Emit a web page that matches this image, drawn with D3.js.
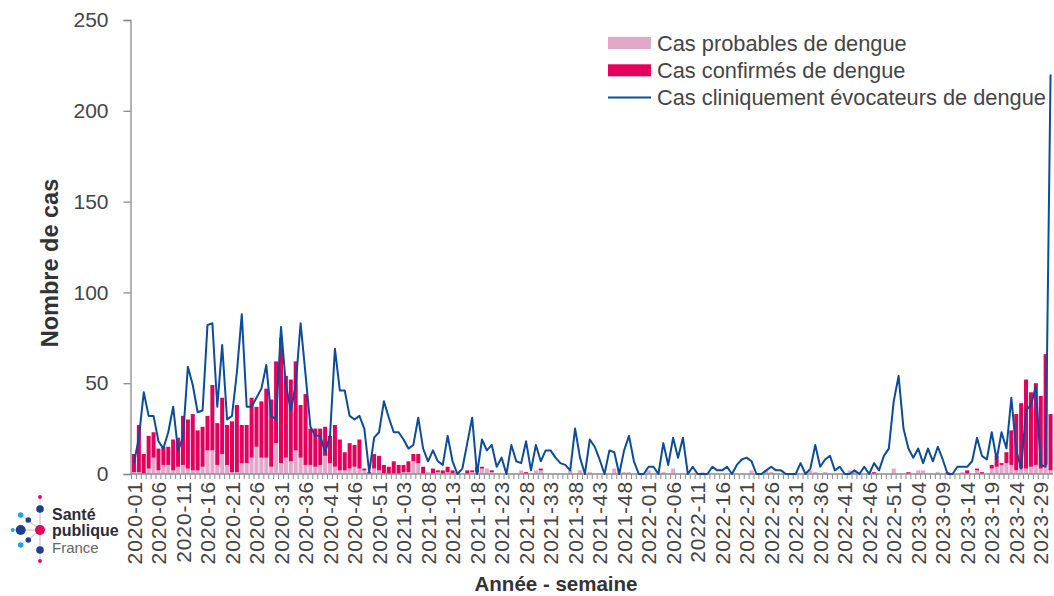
<!DOCTYPE html>
<html lang="fr">
<head>
<meta charset="utf-8">
<title>Dengue - cas par semaine</title>
<script src="https://cdn.jsdelivr.net/npm/d3@7"></script>
<style>
  body { margin: 0; background: #fff; }
  svg { display: block; font-family: "Liberation Sans", Arial, sans-serif; }
</style>
</head>
<body>
<svg id="chart" width="1054" height="596"></svg>
<script>
// weeks per year shown on the x axis
const yearWeeks = [[2020, 53], [2021, 52], [2022, 52], [2023, 31]];
const semaines = [];
yearWeeks.forEach(([an, n]) => {
    for (let w = 1; w <= n; w++) semaines.push(`${an}-${String(w).padStart(2, '0')}`);
});

// Cas probables (bottom of the stack)
const probables = [
    1, 1, 0, 3, 9, 2, 5, 5, 2, 4,
    5, 3, 2, 2, 4, 13, 13, 5, 11, 5,
    1, 1, 6, 6, 9, 15, 9, 9, 4, 17,
    6, 9, 7, 13, 9, 5, 5, 4, 5, 10,
    6, 4, 2, 2, 3, 4, 3, 2, 0, 3,
    2, 0, 0, 0, 0, 1, 1, 7, 6, 0,
    1, 0, 1, 0, 1, 0, 0, 0, 0, 1,
    1, 3, 3, 1, 0, 0, 0, 0, 0, 2,
    0, 0, 2, 2, 0, 0, 0, 0, 0, 2,
    0, 2, 0, 1, 0, 0, 0, 0, 3, 2,
    1, 1, 0, 0, 0, 2, 0, 0, 1, 0,
    3, 0, 0, 0, 0, 0, 1, 0, 0, 0,
    0, 0, 0, 0, 0, 0, 2, 0, 0, 2,
    1, 0, 0, 0, 0, 0, 0, 0, 2, 1,
    0, 1, 0, 0, 0, 0, 2, 2, 0, 0,
    0, 0, 0, 0, 0, 3, 0, 0, 0, 0,
    2, 2, 0, 0, 1, 0, 0, 0, 0, 1,
    0, 0, 2, 0, 0, 3, 4, 5, 6, 5,
    2, 3, 3, 4, 5, 3, 5, 2
];

// Cas confirmés (stacked on top)
const confirmes = [
    10, 26, 11, 18, 14, 12, 10, 10, 17, 16,
    27, 27, 31, 22, 22, 19, 36, 23, 31, 22,
    28, 37, 21, 21, 33, 22, 31, 38, 37, 45,
    69, 45, 45, 49, 29, 39, 20, 21, 20, 16,
    15, 23, 17, 10, 14, 12, 16, 1, 1, 8,
    8, 5, 4, 7, 5, 4, 6, 4, 5, 4,
    0, 3, 1, 2, 3, 2, 1, 0, 2, 1,
    3, 1, 0, 1, 0, 0, 0, 0, 0, 0,
    1, 0, 0, 1, 0, 0, 0, 0, 0, 0,
    0, 0, 0, 0, 0, 0, 0, 0, 0, 0,
    0, 0, 0, 0, 0, 0, 0, 0, 0, 0,
    0, 0, 0, 0, 0, 0, 0, 0, 0, 0,
    0, 0, 0, 0, 0, 0, 0, 0, 0, 0,
    0, 0, 0, 0, 0, 0, 0, 0, 0, 0,
    0, 0, 0, 0, 0, 0, 0, 0, 0, 0,
    0, 1, 0, 0, 0, 0, 0, 0, 1, 0,
    0, 0, 0, 0, 0, 0, 1, 0, 0, 0,
    2, 0, 1, 1, 0, 2, 6, 1, 6, 19,
    31, 36, 49, 41, 45, 40, 61, 31
];

// Cas cliniquement évocateurs (line)
const cliniques = [
    6, 20, 45, 32, 32, 18, 14, 23, 37, 13,
    20, 59, 49, 34, 35, 82, 83, 37, 71, 30,
    32, 56, 88, 37, 37, 42, 47, 60, 32, 30,
    81, 49, 35, 49, 83, 55, 26, 21, 21, 12,
    21, 69, 46, 46, 32, 30, 32, 25, 1, 20,
    23, 40, 31, 23, 23, 19, 14, 16, 31, 14,
    7, 13, 7, 5, 21, 7, 0, 3, 17, 31,
    0, 19, 13, 16, 4, 9, 0, 16, 7, 6,
    18, 2, 16, 7, 13, 13, 9, 6, 5, 2,
    25, 9, 0, 19, 15, 8, 0, 13, 12, 0,
    13, 21, 7, 0, 0, 4, 4, 0, 17, 5,
    20, 9, 20, 0, 4, 0, 0, 0, 4, 2,
    2, 4, 0, 5, 8, 9, 7, 0, 0, 2,
    4, 2, 2, 0, 0, 0, 6, 0, 3, 16,
    4, 8, 10, 2, 4, 0, 0, 2, 0, 4,
    0, 6, 2, 10, 14, 40, 54, 25, 14, 9,
    14, 6, 14, 7, 15, 8, 0, 0, 4, 4,
    4, 7, 20, 10, 8, 23, 8, 23, 14, 42,
    13, 3, 35, 38, 48, 5, 4, 220
];

const yTicks = [0, 50, 100, 150, 200, 250];
const legendLabels = ['Cas probables de dengue', 'Cas confirmés de dengue', 'Cas cliniquement évocateurs de dengue'];

const colProb = '#e2a7c9';
const colConf = '#e4005b';
const colLine = '#0b4c9c';
const axisGrey = '#8c8c8c';
const textGrey = '#454545';

const svg = d3.select('#chart');

const x = d3.scaleBand()
    .domain(semaines)
    .range([131.5, 1053])
    .paddingInner(0.18)
    .paddingOuter(0.09);

const y = d3.scaleLinear().domain([0, 250]).range([474, 20]);

const rows = semaines.map((s, i) => ({ semaine: s, prob: probables[i], conf: confirmes[i], clin: cliniques[i] }));
const series = d3.stack().keys(['prob', 'conf'])(rows);

// bars
svg.append('g')
    .selectAll('g')
    .data(series)
    .join('g')
    .attr('fill', d => d.key === 'prob' ? colProb : colConf)
    .selectAll('rect')
    .data(d => d)
    .join('rect')
    .attr('x', d => x(d.data.semaine))
    .attr('y', d => y(d[1]))
    .attr('width', x.bandwidth())
    .attr('height', d => y(d[0]) - y(d[1]));

// y axis
const yAxis = svg.append('g')
    .attr('transform', 'translate(130.5,0)')
    .call(d3.axisLeft(y).tickValues(yTicks).tickSize(7).tickPadding(15));
yAxis.select('.domain').attr('stroke', axisGrey).attr('stroke-width', 1.3);
yAxis.selectAll('.tick line').attr('stroke', axisGrey).attr('stroke-width', 1.3);
yAxis.selectAll('.tick text')
    .attr('fill', textGrey)
    .style('font-size', '21px');

// x axis : labels every 5 weeks, small tick at every week
const xAxis = svg.append('g')
    .attr('transform', 'translate(0,474)')
    .call(d3.axisBottom(x).tickValues(semaines.filter((s, i) => i % 5 === 0)).tickSize(0));
xAxis.select('.domain').attr('stroke', axisGrey).attr('stroke-width', 1.3).attr('d', 'M130.5,0H1053');
xAxis.selectAll('.tick text')
    .attr('transform', 'rotate(-90)')
    .attr('text-anchor', 'end')
    .attr('x', -7)
    .attr('y', 0)
    .attr('dy', '0.36em')
    .attr('fill', textGrey)
    .style('font-size', '21px')
    .style('letter-spacing', '0.9px');

const step = x.step();
svg.append('g')
    .selectAll('line')
    .data(semaines)
    .join('line')
    .attr('x1', d => x(d) + x.bandwidth() / 2 - step / 2)
    .attr('x2', d => x(d) + x.bandwidth() / 2 - step / 2)
    .attr('y1', 474)
    .attr('y2', 479)
    .attr('stroke', axisGrey)
    .attr('stroke-width', 1);

// line
const line = d3.line()
    .x(d => x(d.semaine) + x.bandwidth() / 2)
    .y(d => y(d.clin));

svg.append('path')
    .datum(rows)
    .attr('fill', 'none')
    .attr('stroke', colLine)
    .attr('stroke-width', 2)
    .attr('stroke-linejoin', 'round')
    .attr('d', line);

// axis titles
svg.append('text')
    .attr('transform', 'translate(58,263) rotate(-90)')
    .attr('text-anchor', 'middle')
    .attr('fill', '#333')
    .style('font-weight', 'bold')
    .style('font-size', '23.5px')
    .text('Nombre de cas');

svg.append('text')
    .attr('x', 556)
    .attr('y', 591)
    .attr('text-anchor', 'middle')
    .attr('fill', '#333')
    .style('font-weight', 'bold')
    .style('font-size', '20.5px')
    .text('Année - semaine');

// legend
const legend = svg.append('g').attr('transform', 'translate(608,43)');
legendLabels.forEach((lab, i) => {
    const g = legend.append('g').attr('transform', `translate(0,${i * 27.3})`);
    if (i < 2) {
        g.append('rect')
            .attr('x', 0).attr('y', -6)
            .attr('width', 43).attr('height', 12)
            .attr('fill', i === 0 ? colProb : colConf);
    } else {
        g.append('line')
            .attr('x1', 0).attr('x2', 43)
            .attr('y1', 0).attr('y2', 0)
            .attr('stroke', colLine).attr('stroke-width', 2);
    }
    g.append('text')
        .attr('x', 49)
        .attr('y', 7.5)
        .attr('fill', textGrey)
        .style('font-size', '21.8px')
        .text(lab);
});

// Santé publique France logo
const logo = svg.append('g');
const hub = [40, 530];
const dots = [
    [40, 497, 1.9, '#e4005b'], [40, 509, 3.8, '#1d3f8f'],
    [20.7, 515, 2.8, '#19a9e1'], [28.3, 520, 2.8, '#1d3f8f'],
    [12.7, 530, 2, '#19a9e1'], [20.7, 530, 5, '#1d3f8f'],
    [28.3, 540, 2.8, '#1d3f8f'], [20.7, 545, 2.8, '#19a9e1'],
    [40, 550, 3.8, '#1d3f8f'], [40, 561, 1.9, '#e4005b']
];
logo.selectAll('line')
    .data(dots)
    .join('line')
    .attr('x1', hub[0]).attr('y1', hub[1])
    .attr('x2', d => d[0]).attr('y2', d => d[1])
    .attr('stroke', '#c8c8d0').attr('stroke-width', 0.8);
logo.selectAll('circle')
    .data(dots)
    .join('circle')
    .attr('cx', d => d[0]).attr('cy', d => d[1]).attr('r', d => d[2])
    .attr('fill', d => d[3]);
logo.append('circle').attr('cx', hub[0]).attr('cy', hub[1]).attr('r', 5).attr('fill', '#e4005b');
logo.append('text').attr('x', 52).attr('y', 520).attr('fill', '#2b2b3a')
    .style('font-weight', 'bold').style('font-size', '16px').text('Santé');
logo.append('text').attr('x', 52).attr('y', 536).attr('fill', '#2b2b3a')
    .style('font-weight', 'bold').style('font-size', '16px').text('publique');
logo.append('text').attr('x', 52).attr('y', 553).attr('fill', '#666')
    .style('font-size', '15px').text('France');
</script>
</body>
</html>
